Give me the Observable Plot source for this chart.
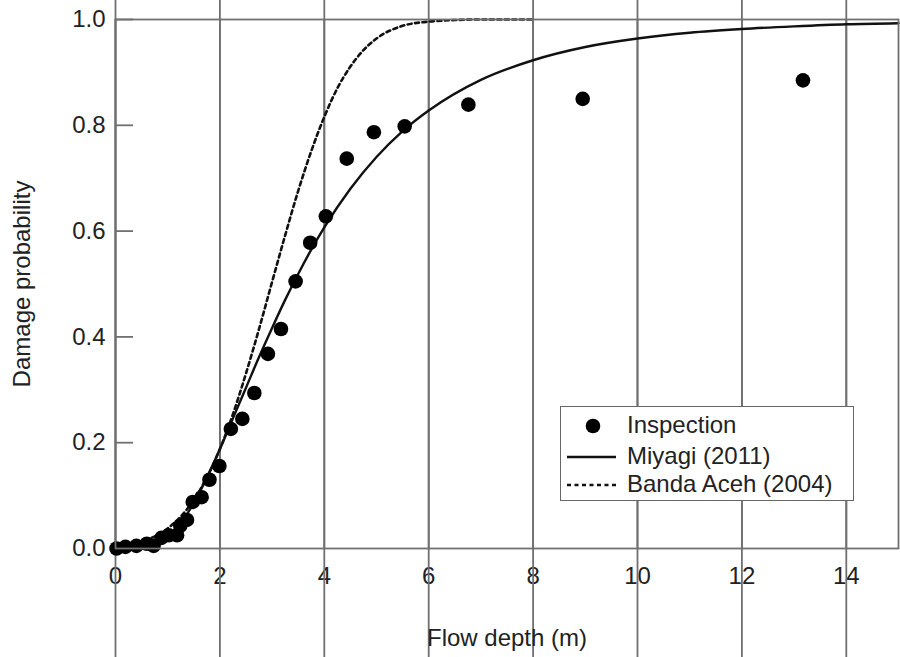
<!DOCTYPE html>
<html>
<head>
<meta charset="utf-8">
<script src="https://cdn.jsdelivr.net/npm/d3@7"></script>
<script src="https://cdn.jsdelivr.net/npm/@observablehq/plot@0.6"></script>
<style>
  html, body { margin: 0; padding: 0; background: #fff; }
  #wrap { position: relative; width: 900px; height: 657px; font-family: "Liberation Sans", Arial, sans-serif; color: #222; }
  #legend { position: absolute; left: 560px; top: 406px; width: 292px; height: 93px; border: 1.5px solid #666; background: #fff; }
  #legend svg { position: absolute; left: 0; top: 0; }
  #legend .lab { position: absolute; left: 66px; font-size: 24px; line-height: 24px; color: #222; white-space: nowrap; }
</style>
</head>
<body>
<div id="wrap"></div>
<script>
// Inspection data
const inspDepth = [0.02,0.19,0.40,0.60,0.73,0.88,1.02,1.18,1.24,1.37,1.48,1.65,1.80,1.99,2.21,2.43,2.66,2.92,3.17,3.45,3.73,4.03,4.43,4.95,5.54,6.76,8.95,13.17];
const inspProb  = [0.000,0.003,0.005,0.009,0.005,0.020,0.025,0.025,0.043,0.054,0.088,0.097,0.130,0.156,0.226,0.245,0.294,0.368,0.415,0.505,0.578,0.628,0.737,0.787,0.798,0.839,0.850,0.885];

// Miyagi (2011) fragility curve
const miyagiDepth = [0,0.25,0.5,0.75,1,1.25,1.5,1.75,2,2.25,2.5,2.75,3,3.25,3.5,3.75,4,4.5,5,5.5,6,7,8,9,10,11,12,13,14,15];
const miyagiProb  = [0,0.000,0.001,0.006,0.021,0.048,0.086,0.134,0.188,0.246,0.304,0.362,0.417,0.470,0.519,0.565,0.607,0.680,0.740,0.789,0.828,0.886,0.923,0.948,0.964,0.975,0.982,0.987,0.991,0.993];

// Banda Aceh (2004) fragility curve
const bandaDepth = [0,0.5,1,1.5,2,2.25,2.5,2.75,3,3.25,3.5,3.75,4,4.25,4.5,4.75,5,5.5,6,6.5,7,8];
const bandaProb  = [0.004,0.013,0.038,0.092,0.188,0.254,0.331,0.415,0.504,0.592,0.676,0.751,0.816,0.870,0.911,0.942,0.964,0.988,0.996,0.999,1.000,1.000];

const xTicks = [0,2,4,6,8,10,12,14];
const yTicks = [0,0.2,0.4,0.6,0.8,1.0];
const xDomain = [0,15];
const yDomain = [0,1];

const inspection = inspDepth.map((d,i) => ({depth: d, prob: inspProb[i]}));
const miyagi = miyagiDepth.map((d,i) => ({depth: d, prob: miyagiProb[i]}));
const banda = bandaDepth.map((d,i) => ({depth: d, prob: bandaProb[i]}));

const W = 900, H = 657, mL = 115, mR = 2, mT = 19, mB = 109;
const frameW = W - mL - mR, frameH = H - mT - mB;
const tickLen = 18;
const axisColor = "#707070";

const chart = Plot.plot({
  width: W,
  height: H,
  marginLeft: mL,
  marginRight: mR,
  marginTop: mT,
  marginBottom: mB,
  style: { fontFamily: '"Liberation Sans", Arial, sans-serif', fontSize: "24px", color: "#222", background: "#fff" },
  x: { domain: xDomain },
  y: { domain: yDomain },
  marks: [
    Plot.axisX({ ticks: xTicks, tickSize: 0, tickPadding: 18, label: null, fontSize: 24, fill: "#222" }),
    Plot.axisY({ ticks: yTicks, tickSize: 0, tickPadding: 10, label: null, fontSize: 24, fill: "#222", tickFormat: d3.format(".1f") }),
    // inward ticks: rules spanning the frame, cut down by insets to the tick length
    Plot.ruleX(xTicks, { x: d => d, y1: yDomain[0], y2: yDomain[1], insetTop: frameH - tickLen, stroke: axisColor, strokeWidth: 1.8 }),
    Plot.ruleX(xTicks, { x: d => d, y1: yDomain[0], y2: yDomain[1], insetBottom: frameH - tickLen, stroke: axisColor, strokeWidth: 1.8 }),
    Plot.ruleY(yTicks, { y: d => d, x1: xDomain[0], x2: xDomain[1], insetRight: frameW - tickLen, stroke: axisColor, strokeWidth: 1.8 }),
    Plot.line(banda, { x: "depth", y: "prob", curve: "monotone-x", stroke: "#111", strokeWidth: 2.6, strokeDasharray: "4,3.5" }),
    Plot.line(miyagi, { x: "depth", y: "prob", curve: "monotone-x", stroke: "#111", strokeWidth: 2.4 }),
    Plot.dot(inspection, { x: "depth", y: "prob", r: 7.3, fill: "#000", stroke: "none" }),
    Plot.frame({ stroke: axisColor, strokeWidth: 1.8 }),
    Plot.text(["Flow depth (m)"], { text: d => d, frameAnchor: "bottom", dy: 90, lineAnchor: "middle", fontSize: 24, fill: "#222" }),
    Plot.text(["Damage probability"], { text: d => d, frameAnchor: "left", dx: -93, rotate: -90, lineAnchor: "middle", textAnchor: "middle", fontSize: 24, fill: "#222" })
  ]
});

const wrap = document.getElementById("wrap");
wrap.appendChild(chart);

// Legend (inside plot area)
const legendItems = [
  { label: "Inspection", kind: "dot" },
  { label: "Miyagi (2011)", kind: "solid" },
  { label: "Banda Aceh (2004)", kind: "dash" }
];
const legend = document.createElement("div");
legend.id = "legend";
const rowY = [19, 50, 78];
let svgStr = '<svg width="60" height="93">';
legendItems.forEach((it, i) => {
  const y = rowY[i];
  if (it.kind === "dot") svgStr += `<circle cx="32" cy="${y}" r="7.3" fill="#000"/>`;
  if (it.kind === "solid") svgStr += `<line x1="6" x2="55" y1="${y}" y2="${y}" stroke="#111" stroke-width="2.4"/>`;
  if (it.kind === "dash") svgStr += `<line x1="6" x2="55" y1="${y}" y2="${y}" stroke="#111" stroke-width="2.6" stroke-dasharray="4,3.5"/>`;
});
svgStr += '</svg>';
legend.innerHTML = svgStr + legendItems.map((it, i) => `<div class="lab" style="top:${rowY[i] - 13}px">${it.label}</div>`).join("");
wrap.appendChild(legend);
</script>
</body>
</html>
